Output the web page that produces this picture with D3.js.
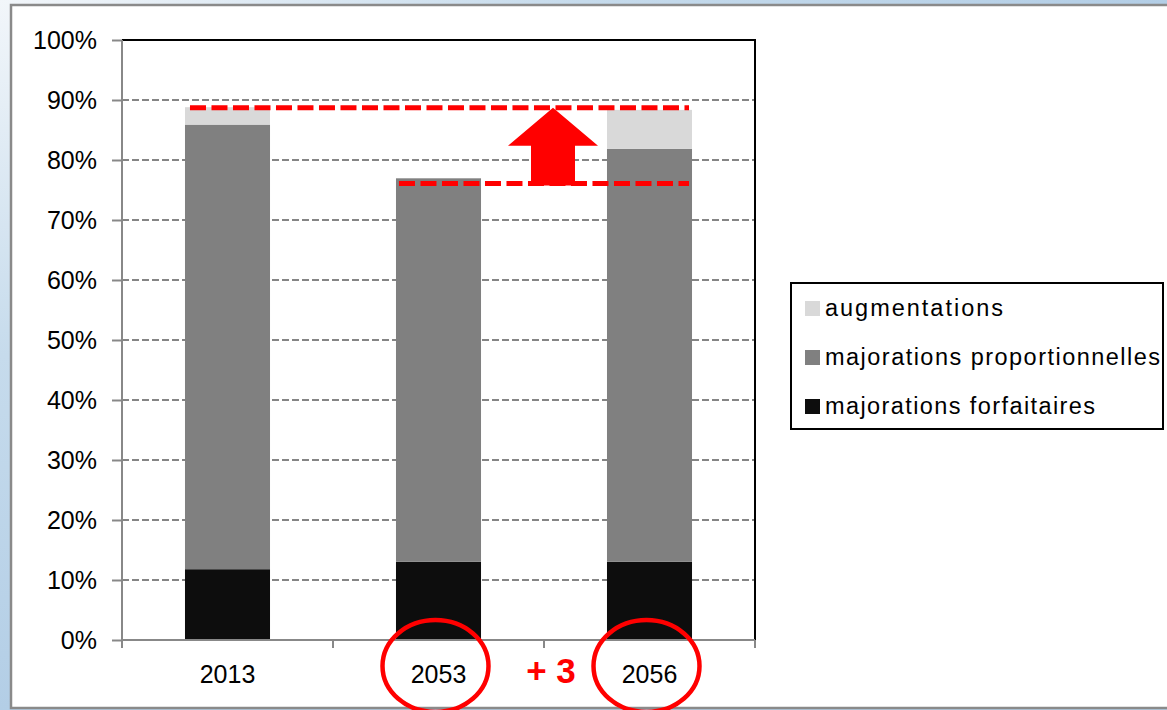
<!DOCTYPE html>
<html>
<head>
<meta charset="utf-8">
<script src="https://cdn.jsdelivr.net/npm/d3@7"></script>
<style>
  html, body { margin: 0; padding: 0; background: #fff; }
  svg { display: block; font-family: "Liberation Sans", Arial, sans-serif; }
</style>
</head>
<body>
<svg id="chart"></svg>
<script>
// data (percent)
const years = ['2013', '2053', '2056'];
const forfaitaires = [11.8, 13.05, 13.05];
const proportionnelles = [74.1, 63.9, 68.8];
const augmentations = [2.9, 0, 6.5];
const yTicks = [0, 10, 20, 30, 40, 50, 60, 70, 80, 90, 100];
const seriesKeys = ['forf', 'prop', 'augm'];
const seriesLabels = {
    augm: 'augmentations',
    prop: 'majorations proportionnelles',
    forf: 'majorations forfaitaires'
};
const legendOrder = ['augm', 'prop', 'forf'];
// annotation levels (dashed red lines)
const levelHigh = 88.7;
const levelLow = 76.1;
const gainLabel = '+ 3';
const circledYears = ['2053', '2056'];

const colors = { augm: '#d9d9d9', prop: '#808080', forf: '#0d0d0d' };

const W = 1167, H = 710;
const margin = { top: 40, right: 412, bottom: 70, left: 122 };
const innerW = W - margin.left - margin.right;
const innerH = H - margin.top - margin.bottom;

const svg = d3.select('#chart').attr('width', W).attr('height', H);

// background frame
const defs = svg.append('defs');
const grad = defs.append('radialGradient')
    .attr('id', 'bg').attr('cx', '0').attr('cy', '0').attr('r', '1')
    .attr('gradientUnits', 'objectBoundingBox');
grad.append('stop').attr('offset', '0').attr('stop-color', '#f2f6fa');
grad.append('stop').attr('offset', '0.5').attr('stop-color', '#c6dbec');
grad.append('stop').attr('offset', '1').attr('stop-color', '#b3cee6');
svg.append('rect').attr('width', W).attr('height', H).attr('fill', 'url(#bg)');
svg.append('rect')
    .attr('x', 11).attr('y', 5).attr('width', W + 10).attr('height', 703)
    .attr('fill', '#fff').attr('stroke', '#8a8a8a').attr('stroke-width', 2.5);

const table = years.map((y, i) => ({
    year: y,
    forf: forfaitaires[i],
    prop: proportionnelles[i],
    augm: augmentations[i]
}));
const stacked = d3.stack().keys(seriesKeys)(table);

const g = svg.append('g').attr('transform', `translate(${margin.left},${margin.top})`);

const x = d3.scaleBand().domain(years).range([0, innerW])
    .paddingInner(0.597).paddingOuter(0.2985);
const y = d3.scaleLinear().domain([0, 100]).range([innerH, 0]);

// gridlines
g.append('g').selectAll('line')
    .data(yTicks.filter(d => d > 0))
    .join('line')
    .attr('x1', 0).attr('x2', innerW)
    .attr('y1', d => y(d)).attr('y2', d => y(d))
    .attr('stroke', '#858585').attr('stroke-width', 1.8)
    .attr('stroke-dasharray', '7,3');

// plot area border top + right
g.append('path')
    .attr('d', `M0,${y(100)}H${innerW}V${innerH}`)
    .attr('fill', 'none').attr('stroke', '#000').attr('stroke-width', 2);

// bars
g.append('g').selectAll('g')
    .data(stacked)
    .join('g')
    .attr('fill', d => colors[d.key])
    .selectAll('rect')
    .data(d => d)
    .join('rect')
    .attr('x', d => x(d.data.year))
    .attr('width', x.bandwidth())
    .attr('y', d => y(d[1]))
    .attr('height', d => y(d[0]) - y(d[1]));

// y axis
const yAxis = d3.axisLeft(y).tickValues(yTicks).tickSize(10).tickPadding(15)
    .tickFormat(d => d + '%');
const yg = g.append('g').call(yAxis);
yg.select('.domain').attr('stroke', '#888').attr('stroke-width', 2)
    .attr('d', `M0,${innerH}V0`);
yg.selectAll('.tick line').attr('stroke', '#888').attr('stroke-width', 2);
yg.selectAll('.tick text').attr('font-size', 25).attr('fill', '#000')
    .attr('font-family', '"Liberation Sans", Arial, sans-serif');

// x axis
const xg = g.append('g').attr('transform', `translate(0,${innerH})`);
xg.append('line').attr('x1', 0).attr('x2', innerW)
    .attr('stroke', '#888').attr('stroke-width', 2);
const bounds = d3.range(years.length + 1).map(i => i * x.step());
xg.selectAll('.xt').data(bounds).join('line').attr('class', 'xt')
    .attr('x1', d => d).attr('x2', d => d).attr('y1', 0).attr('y2', 8)
    .attr('stroke', '#888').attr('stroke-width', 2);
xg.selectAll('.xl').data(years).join('text').attr('class', 'xl')
    .attr('x', d => x(d) + x.bandwidth() / 2).attr('y', 43)
    .attr('text-anchor', 'middle').attr('font-size', 25).attr('fill', '#000')
    .text(d => d);

// annotations: dashed red levels and arrow
const bw = x.bandwidth();
const ann = g.append('g');
ann.append('line')
    .attr('x1', x('2013') + 5).attr('x2', x('2056') + bw - 3)
    .attr('y1', y(levelHigh)).attr('y2', y(levelHigh))
    .attr('stroke', '#ff0000').attr('stroke-width', 5)
    .attr('stroke-dasharray', '16,5.5');
ann.append('line')
    .attr('x1', x('2053') + 3).attr('x2', x('2056') + bw - 3)
    .attr('y1', y(levelLow)).attr('y2', y(levelLow))
    .attr('stroke', '#ff0000').attr('stroke-width', 5)
    .attr('stroke-dasharray', '16,5.5');

const ax = 2 * x.step() + 9;
const tipY = y(levelHigh), baseY = y(levelLow) + 2;
const headY = tipY + 38;
ann.append('path')
    .attr('d', `M${ax},${tipY} L${ax + 45},${headY} L${ax + 22},${headY} L${ax + 22},${baseY}
                L${ax - 22},${baseY} L${ax - 22},${headY} L${ax - 45},${headY} Z`)
    .attr('fill', '#ff0000');

// circles around the compared years
ann.selectAll('ellipse').data(circledYears).join('ellipse')
    .attr('cx', d => x(d) + bw / 2 - 3)
    .attr('cy', innerH + 26)
    .attr('rx', 53).attr('ry', 46)
    .attr('fill', 'none').attr('stroke', '#ff0000').attr('stroke-width', 4.5);

ann.append('text')
    .attr('x', 2 * x.step() + 7).attr('y', innerH + 43)
    .attr('text-anchor', 'middle').attr('font-size', 35).attr('font-weight', 'bold')
    .attr('fill', '#ff0000').text(gainLabel);

// legend
const lg = svg.append('g').attr('transform', 'translate(791,283)');
lg.append('rect').attr('width', 372).attr('height', 146)
    .attr('fill', '#fff').attr('stroke', '#000').attr('stroke-width', 2);
const legendWidths = { augm: 178, prop: 335, forf: 270 };
const items = lg.selectAll('.li').data(legendOrder).join('g').attr('class', 'li')
    .attr('transform', (d, i) => `translate(14,${25 + i * 49})`);
items.append('rect').attr('y', -7).attr('width', 15).attr('height', 15)
    .attr('fill', d => colors[d]);
items.append('text').attr('x', 20).attr('y', 8)
    .attr('font-size', 23.5).attr('fill', '#000')
    .attr('textLength', d => legendWidths[d]).attr('lengthAdjust', 'spacing')
    .text(d => seriesLabels[d]);
</script>
</body>
</html>
